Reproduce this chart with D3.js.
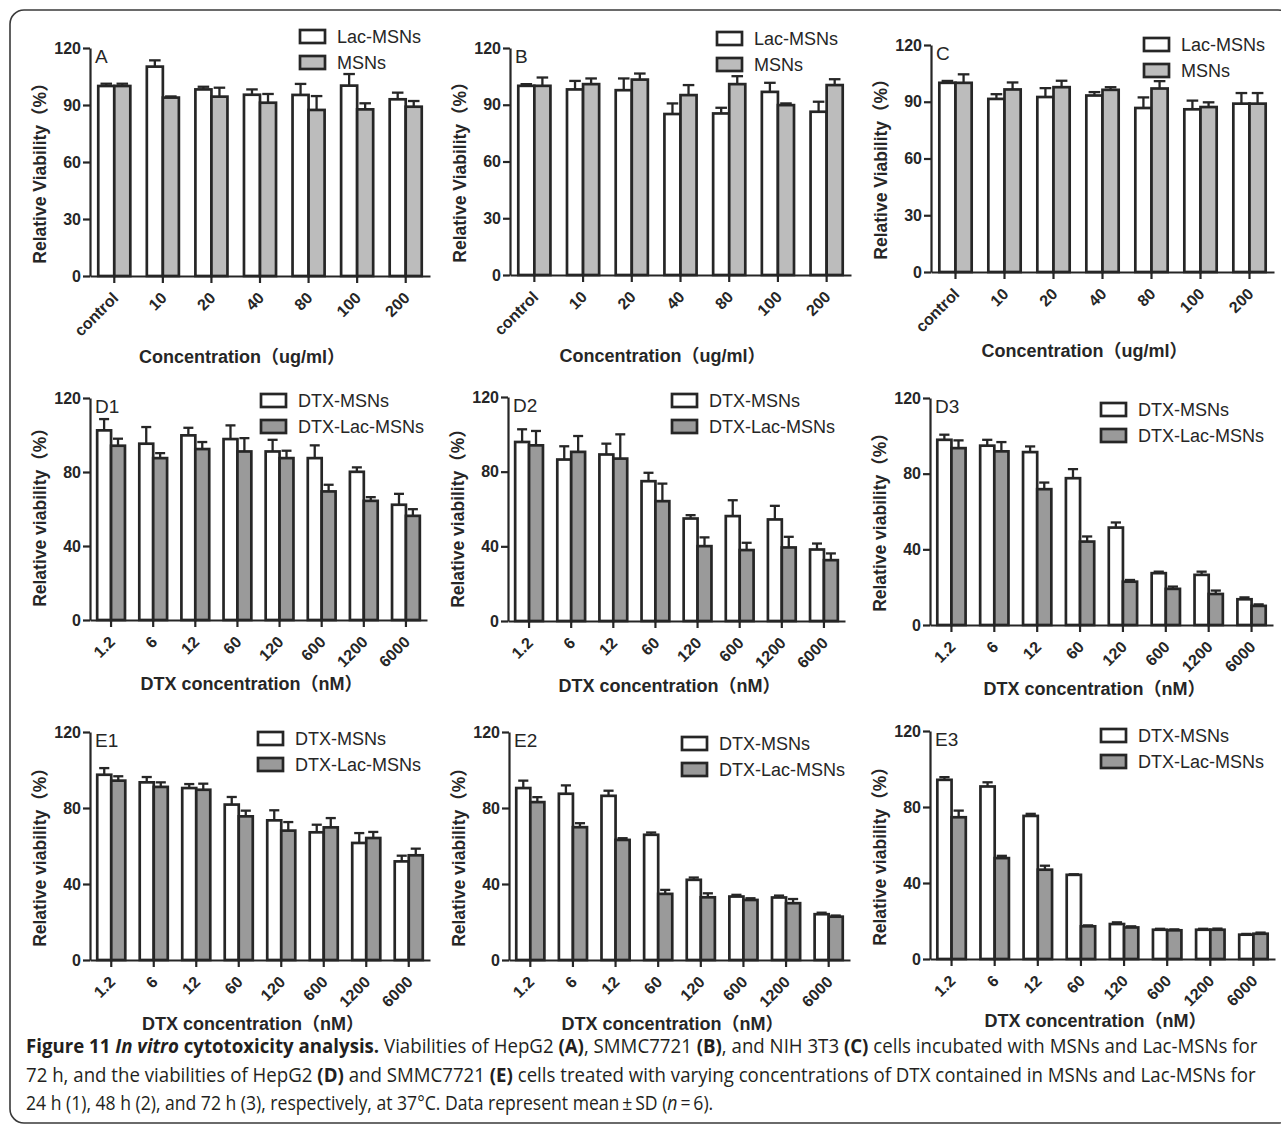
<!DOCTYPE html>
<html>
<head>
<meta charset="utf-8">
<script src="https://cdn.jsdelivr.net/npm/d3@7/dist/d3.min.js"></script>
<style>
  body { margin: 0; background: #fff; }
  svg { display: block; }
</style>
</head>
<body>
<svg id="fig" width="1281" height="1128"></svg>
<script>
"use strict";

// categories
var concMsn = ["control", "10", "20", "40", "80", "100", "200"];
var concDtx = ["1.2", "6", "12", "60", "120", "600", "1200", "6000"];
var ticksTop = [0, 30, 60, 90, 120];
var ticksDtx = [0, 40, 80, 120];

// A: HepG2, empty carriers (white = Lac-MSNs, grey = MSNs)
var aLac = [100, 110.2, 98.2, 95.4, 95.3, 100.2, 93];
var aLacSd = [1.2, 3.3, 1.4, 2.8, 5.8, 6.1, 3.5];
var aMsn = [100, 93.9, 94.4, 91.2, 87.4, 87.7, 89.1];
var aMsnSd = [1.2, 0.6, 4.7, 4.6, 7.3, 3.2, 3];

// B: SMMC7721
var bLac = [100, 98.1, 97.7, 85.1, 85.4, 96.8, 86.3];
var bLacSd = [0.9, 4.5, 6.2, 5.6, 3, 4.8, 5.3];
var bMsn = [100, 100.9, 103.3, 95.1, 100.9, 89.8, 100.4];
var bMsnSd = [4.4, 3, 3.2, 5.3, 4.2, 0.9, 3.1];

// C: NIH 3T3
var cLac = [100, 91.5, 92.5, 93.3, 86.7, 86, 89];
var cLacSd = [1, 2.5, 4.7, 1.8, 5.6, 4.6, 5.6];
var cMsn = [100, 96.5, 97.7, 96.3, 97, 87.2, 89];
var cMsnSd = [4.5, 3.7, 3.4, 1.4, 3.9, 2.5, 5.6];

// D: HepG2 + DTX (white = DTX-MSNs, grey = DTX-Lac-MSNs)
var d1Msn = [102.5, 95.3, 99.8, 97.8, 91.1, 87.5, 80.1, 62.3];
var d1MsnSd = [6.1, 9, 4.1, 7.4, 6.3, 6.9, 2.4, 5.9];
var d1Lac = [94.2, 87.5, 92.4, 91.1, 87.5, 69.5, 64.4, 56.3];
var d1LacSd = [3.8, 2.7, 3.8, 7.2, 4, 3.6, 2, 3.6];

var d2Msn = [95.9, 86.5, 89.2, 74.9, 54.9, 56.2, 54.4, 38.3];
var d2MsnSd = [6.8, 7.1, 5.8, 4.5, 1.8, 8.5, 7.3, 3.2];
var d2Lac = [94.1, 90.6, 87, 64.2, 40.1, 38, 39.4, 32.6];
var d2LacSd = [7.7, 8.5, 13, 9.4, 4.7, 3.9, 5.7, 3.6];

var d3Msn = [97.9, 94.8, 91.4, 77.6, 51.5, 27.4, 26.5, 13.6];
var d3MsnSd = [2.7, 3.1, 3, 4.8, 2.7, 0.8, 1.7, 1];
var d3Lac = [93.5, 91.8, 71.8, 44.1, 22.9, 19.1, 16.4, 10.1];
var d3LacSd = [4.1, 4.9, 3.5, 2.7, 0.9, 1.2, 1.8, 0.8];

// E: SMMC7721 + DTX
var e1Msn = [97.5, 93.5, 90.5, 81.8, 73.5, 67.2, 61.6, 51.9];
var e1MsnSd = [3.5, 2.8, 2.1, 4, 5.3, 4, 5.2, 3];
var e1Lac = [94.4, 91.1, 89.6, 75.6, 68.1, 69.8, 64.2, 55.1];
var e1LacSd = [2.3, 2.4, 3.2, 3, 4.5, 4.9, 3.2, 3.5];

var e2Msn = [90.5, 87.5, 86.4, 65.9, 42.2, 33.4, 32.9, 24.1];
var e2MsnSd = [3.9, 4.4, 2.7, 1.2, 1.2, 0.9, 1, 0.8];
var e2Lac = [83.1, 69.9, 63.2, 34.8, 33, 31.6, 29.9, 22.8];
var e2LacSd = [2.6, 2.1, 0.9, 2.1, 2.1, 0.9, 2.2, 0.6];

var e3Msn = [94.3, 90.8, 75.3, 44.3, 18.4, 15.4, 15.4, 12.8];
var e3MsnSd = [1.4, 2.2, 1.1, 0.3, 0.9, 0.5, 0.5, 0.4];
var e3Lac = [74.6, 53.1, 47, 17.2, 16.6, 15.1, 15.4, 13.3];
var e3LacSd = [3.5, 1.2, 2.1, 0.5, 0.6, 0.5, 0.6, 0.6];

var namesTop = ["Lac-MSNs", "MSNs"];
var namesDtx = ["DTX-MSNs", "DTX-Lac-MSNs"];

var ink = "#262626";
var greyLight = "#bcbcbc";
var greyDark = "#9a9a9a";
var chartFont = "'Liberation Sans', Arial, 'Noto Sans CJK SC', sans-serif";

var kindTop = { cats: concMsn, ticks: ticksTop, names: namesTop, fill: greyLight,
    yTitle: "Relative Viability（%）", xTitle: "Concentration（ug/ml）", xtdx: -18 };
var kindDtx = { cats: concDtx, ticks: ticksDtx, names: namesDtx, fill: greyDark,
    yTitle: "Relative viability（%）", xTitle: "DTX concentration（nM）", xtdx: -7 };

var panels = [
    { kind: kindTop, label: "A", white: aLac, whiteSd: aLacSd, grey: aMsn, greySd: aMsnSd, ax: 90, ar: 430, yt: 48, yz: 276, lx: 300, ly: 30, xty: 363 },
    { kind: kindTop, label: "B", white: bLac, whiteSd: bLacSd, grey: bMsn, greySd: bMsnSd, ax: 510, ar: 851, yt: 48, yz: 275, lx: 717, ly: 32, xty: 362 },
    { kind: kindTop, label: "C", white: cLac, whiteSd: cLacSd, grey: cMsn, greySd: cMsnSd, ax: 931, ar: 1274, yt: 45, yz: 272, lx: 1144, ly: 38, xty: 357 },
    { kind: kindDtx, label: "D1", white: d1Msn, whiteSd: d1MsnSd, grey: d1Lac, greySd: d1LacSd, ax: 90, ar: 427, yt: 398, yz: 620, lx: 261, ly: 394, xty: 690 },
    { kind: kindDtx, label: "D2", white: d2Msn, whiteSd: d2MsnSd, grey: d2Lac, greySd: d2LacSd, ax: 508, ar: 845, yt: 397, yz: 621, lx: 672, ly: 394, xty: 692 },
    { kind: kindDtx, label: "D3", white: d3Msn, whiteSd: d3MsnSd, grey: d3Lac, greySd: d3LacSd, ax: 930, ar: 1273, yt: 398, yz: 625, lx: 1101, ly: 403, xty: 695 },
    { kind: kindDtx, label: "E1", white: e1Msn, whiteSd: e1MsnSd, grey: e1Lac, greySd: e1LacSd, ax: 90, ar: 430, yt: 732, yz: 960, lx: 258, ly: 732, xty: 1030 },
    { kind: kindDtx, label: "E2", white: e2Msn, whiteSd: e2MsnSd, grey: e2Lac, greySd: e2LacSd, ax: 509, ar: 850, yt: 732, yz: 960, lx: 682, ly: 737, xty: 1030 },
    { kind: kindDtx, label: "E3", white: e3Msn, whiteSd: e3MsnSd, grey: e3Lac, greySd: e3LacSd, ax: 930, ar: 1275, yt: 731, yz: 959, lx: 1101, ly: 729, xty: 1027 }
];

var svg = d3.select("#fig");

// outer frame
svg.append("rect")
    .attr("x", 10).attr("y", 10)
    .attr("width", 1282).attr("height", 1113)
    .attr("rx", 14).attr("ry", 14)
    .attr("fill", "none")
    .attr("stroke", "#3a3a3a")
    .attr("stroke-width", 1.6);

var drawPanel = function (p) {
    var k = p.kind;
    var g = svg.append("g").attr("class", "panel");

    var x = d3.scaleBand().domain(k.cats).range([p.ax, p.ar]).paddingInner(0.34).paddingOuter(0.17);
    var sub = d3.scaleBand().domain(["white", "grey"]).range([0, x.bandwidth()]);
    var y = d3.scaleLinear().domain([0, 120]).range([p.yz, p.yt]);

    var series = [
        { key: "white", values: p.white, sd: p.whiteSd, fill: "#ffffff" },
        { key: "grey", values: p.grey, sd: p.greySd, fill: k.fill }
    ];

    series.forEach(function (s) {
        var rows = k.cats.map(function (c, i) { return { cat: c, v: s.values[i], sd: s.sd[i] }; });
        var sg = g.append("g").attr("class", "series-" + s.key);

        sg.selectAll("rect").data(rows).enter().append("rect")
            .attr("x", function (d) { return x(d.cat) + sub(s.key); })
            .attr("y", function (d) { return y(d.v); })
            .attr("width", sub.bandwidth())
            .attr("height", function (d) { return y(0) - y(d.v); })
            .attr("fill", s.fill)
            .attr("stroke", ink)
            .attr("stroke-width", 2.7);

        var err = sg.selectAll(".err").data(rows).enter().append("g").attr("class", "err");
        var mid = function (d) { return x(d.cat) + sub(s.key) + sub.bandwidth() / 2; };
        err.append("line")
            .attr("x1", mid).attr("x2", mid)
            .attr("y1", function (d) { return y(d.v); })
            .attr("y2", function (d) { return y(d.v + d.sd); })
            .attr("stroke", ink).attr("stroke-width", 2.3);
        err.append("line")
            .attr("x1", function (d) { return mid(d) - sub.bandwidth() * 0.36; })
            .attr("x2", function (d) { return mid(d) + sub.bandwidth() * 0.36; })
            .attr("y1", function (d) { return y(d.v + d.sd); })
            .attr("y2", function (d) { return y(d.v + d.sd); })
            .attr("stroke", ink).attr("stroke-width", 2.3);
    });

    // axes
    var yAxis = g.append("g")
        .attr("transform", "translate(" + p.ax + ",0)")
        .call(d3.axisLeft(y).tickValues(k.ticks).tickSize(7).tickSizeOuter(0).tickPadding(2));
    var xAxis = g.append("g")
        .attr("transform", "translate(0," + p.yz + ")")
        .call(d3.axisBottom(x).tickSize(7).tickSizeOuter(0));

    [yAxis, xAxis].forEach(function (a) {
        a.attr("font-family", null).attr("font-size", null);
        a.select(".domain").attr("stroke", ink).attr("stroke-width", 2.2);
        a.selectAll(".tick line").attr("stroke", ink).attr("stroke-width", 2.2);
        a.selectAll("text")
            .attr("fill", ink)
            .attr("font-family", chartFont)
            .attr("font-weight", "bold")
            .attr("font-size", 16);
    });

    xAxis.selectAll(".tick text")
        .attr("x", 0).attr("y", 0).attr("dy", 0)
        .attr("text-anchor", "end")
        .attr("transform", "translate(5,23) rotate(-45)");

    // panel letter
    g.append("text")
        .attr("x", p.ax + 5).attr("y", p.yt + 15)
        .attr("font-family", chartFont).attr("font-size", 19)
        .attr("fill", ink)
        .text(p.label);

    // axis titles
    g.append("text")
        .attr("transform", "translate(" + (p.ax - 44) + "," + (p.yz - 107) + ") rotate(-90)")
        .attr("text-anchor", "middle")
        .attr("font-family", chartFont).attr("font-weight", "bold").attr("font-size", 17.5)
        .attr("fill", ink)
        .text(k.yTitle);
    g.append("text")
        .attr("x", (p.ax + p.ar) / 2 + k.xtdx).attr("y", p.xty)
        .attr("text-anchor", "middle")
        .attr("font-family", chartFont).attr("font-weight", "bold").attr("font-size", 18)
        .attr("fill", ink)
        .text(k.xTitle);

    // legend
    var lg = g.append("g").attr("transform", "translate(" + p.lx + "," + p.ly + ")");
    var entries = lg.selectAll("g").data([{ n: k.names[0], f: "#ffffff" }, { n: k.names[1], f: k.fill }])
        .enter().append("g")
        .attr("transform", function (d, i) { return "translate(0," + (i * 26) + ")"; });
    entries.append("rect")
        .attr("width", 25).attr("height", 13)
        .attr("fill", function (d) { return d.f; })
        .attr("stroke", ink).attr("stroke-width", 2.7);
    entries.append("text")
        .attr("x", 37).attr("y", 13)
        .attr("font-family", chartFont).attr("font-size", 18)
        .attr("fill", ink)
        .text(function (d) { return d.n; });
};

panels.forEach(drawPanel);

// caption
var captionLines = [
    { y: 1053, w: 1232, parts: [
        ["Figure 11 ", "b"], ["In vitro", "bi"], [" cytotoxicity analysis.", "b"],
        [" Viabilities of HepG2 ", ""], ["(A)", "b"], [", SMMC7721 ", ""], ["(B)", "b"],
        [", and NIH 3T3 ", ""], ["(C)", "b"], [" cells incubated with MSNs and Lac-MSNs for", ""]] },
    { y: 1082, w: 1230, parts: [
        ["72 h, and the viabilities of HepG2 ", ""], ["(D)", "b"], [" and SMMC7721 ", ""], ["(E)", "b"],
        [" cells treated with varying concentrations of DTX contained in MSNs and Lac-MSNs for", ""]] },
    { y: 1110, w: 688, parts: [
        ["24 h (1), 48 h (2), and 72 h (3), respectively, at 37°C. Data represent mean\u2009±\u2009SD (", ""],
        ["n", "i"], ["\u2009=\u20096).", ""]] }
];

captionLines.forEach(function (line) {
    var t = svg.append("text")
        .attr("x", 0).attr("y", 0)
        .attr("font-family", "'Open Sans', 'Noto Sans', sans-serif")
        .attr("font-size", 19.5)
        .attr("fill", "#231f20")
        .style("white-space", "pre");
    line.parts.forEach(function (part) {
        t.append("tspan")
            .attr("font-weight", part[1].indexOf("b") >= 0 ? "bold" : "normal")
            .attr("font-style", part[1].indexOf("i") >= 0 ? "italic" : "normal")
            .text(part[0]);
    });
    var natural = t.node().getComputedTextLength();
    var sx = line.w / natural;
    t.attr("transform", "translate(26," + line.y + ") scale(" + sx + ",1)");
});
</script>
</body>
</html>
